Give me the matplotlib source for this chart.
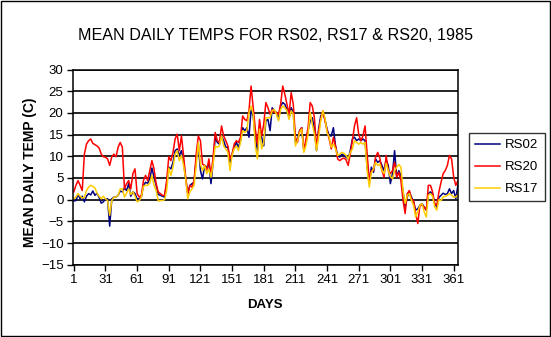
import matplotlib
import matplotlib.pyplot as plt
import numpy as np
from matplotlib.patches import Rectangle

matplotlib.use('Agg')
plt.rcParams['font.family'] = ['Liberation Sans', 'DejaVu Sans']

# readings every second day of 1985
days = np.arange(1, 366, 2)

rs02 = [-0.3, -0.2, 1.2, 0.2, 0.8, -0.5, 0.8, 1.4, 1.1, 2.0, 1.0, 1.5, 0.5, -0.8, -0.5, 0.2,
        0.2, -6.1, 0.2, 0.6, 0.6, 1.0, 2.0, 1.8, 2.7, 2.1, 3.7, 0.8, 1.8, 1.4, 0.2, 0.2,
        0.6, 3.3, 4.0, 3.8, 4.8, 7.3, 5.2, 3.3, 1.2, 1.0, 0.8, 0.6, 3.7, 7.5,
        7.1, 8.6, 11.3, 11.7, 10.2, 11.3, 8.6, 4.8, 1.4, 3.3, 3.7, 4.0, 9.4, 12.8, 6.7, 4.8,
        7.9, 7.5, 8.2, 3.7, 8.6, 14.4, 13.2, 12.8, 14.7, 13.6, 12.1, 12.1, 8.6, 10.5, 12.1,
        13.2, 12.1, 13.6, 16.6, 15.9, 16.6, 14.4, 20.8, 19.3, 14.4, 11.3, 16.6, 14.4, 12.4,
        18.2, 18.5,
        15.9, 21.2, 20.5, 20.1, 18.5, 21.6, 22.4, 22.0, 20.8, 18.9, 21.2, 20.1, 13.2, 14.0,
        15.9, 16.6, 11.3, 13.2, 15.9, 18.2, 18.9, 16.3, 11.3, 16.3, 19.3, 20.1, 18.5, 16.3,
        14.7, 14.7, 16.6, 12.4, 10.2, 9.8, 10.5, 10.2, 9.8, 9.4, 11.3, 14.0, 14.4, 13.6,
        14.0, 13.6, 14.0, 13.6,
        7.5, 4.4, 7.5, 6.3, 9.4, 8.6, 9.0, 7.9, 6.7, 9.2, 7.9, 3.7, 6.0, 11.3, 5.2, 6.7,
        5.6, 1.8, -1.7, 0.6, 1.8, 0.6, -0.5, -2.4, -2.1, -1.3, -0.9, -1.7, -2.4, 1.4, 1.8,
        1.2, -0.9, -1.7, 0.5, 1.0, 1.5, 1.2, 1.4, 2.5, 1.4, 2.1, 0.2, 3.3]

rs20 = [1.8, 3.3, 4.4, 3.3, 2.1, 10.5, 12.8, 13.6, 14.0, 13.0, 12.7, 12.4, 11.9, 10.5, 9.9,
        9.8, 9.4, 7.9, 9.9, 10.5, 9.9, 12.1, 13.2, 12.1, 2.5, 3.7, 4.4, 2.5, 6.0, 7.1, 1.4,
        0.6, 1.0, 4.4, 5.6, 4.4, 6.7, 9.0, 7.1, 3.7, 1.8, 1.4, 1.0, 1.0, 4.4, 9.9,
        9.0, 10.9, 14.0, 15.1, 11.3, 14.7, 10.2, 5.2, 1.4, 3.3, 2.9, 4.4, 10.5, 14.7, 13.6,
        8.2, 7.9, 6.7, 9.4, 5.6, 9.8, 15.5, 13.6, 13.2, 17.0, 14.7, 13.6, 12.4, 9.4, 10.5,
        12.8, 13.6, 13.2, 14.4, 19.3, 18.5, 18.2, 20.5, 26.2, 21.2, 16.3, 12.8, 18.5, 14.7,
        17.4, 22.4, 21.2,
        19.7, 20.8, 20.1, 20.1, 19.7, 22.0, 26.2, 24.3, 22.0, 19.7, 24.7, 22.0, 14.4, 13.2,
        15.9, 16.6, 11.3, 14.0, 16.6, 22.4, 21.6, 18.9, 12.1, 15.9, 18.5, 20.5, 18.2, 15.9,
        14.0, 11.7, 14.4, 12.4, 9.4, 9.0, 9.4, 9.6, 9.2, 7.9, 10.5, 13.6, 17.0, 18.9, 15.1,
        13.6, 14.7, 17.0,
        10.5, 4.4, 6.7, 6.7, 9.8, 10.9, 9.6, 6.7, 5.2, 10.2, 6.7, 6.0, 6.7, 8.6, 5.2, 6.3,
        4.4, -0.2, -3.2, 1.4, 2.1, 0.2, -0.2, -3.2, -5.5, -1.3, -1.3, -1.7, -2.4, 3.3, 3.3,
        1.8, -0.9, -1.3, 1.8, 4.0, 6.0, 6.7, 7.9, 10.2, 9.4, 5.2, 3.3, 4.4]

rs17 = [0.2, 0.6, 1.4, 0.8, 0.4, 0.5, 2.1, 2.9, 3.3, 3.1, 2.7, 1.5, 0.8, 0.2, 0.8, 0.2,
        -0.2, -3.6, -0.2, 0.6, 0.6, 1.0, 2.5, 2.5, 0.6, 1.5, 2.5, 1.2, 1.8, 0.8, -0.5, -0.2,
        0.6, 3.1, 3.3, 3.3, 3.8, 5.6, 3.3, 2.1, -0.3, -0.2, -0.2, 0.0, 2.1, 7.3,
        5.6, 7.5, 10.5, 11.3, 9.0, 10.2, 7.9, 4.8, 0.2, 1.8, 2.5, 3.3, 7.9, 13.2, 8.2, 6.7,
        7.9, 6.0, 7.1, 5.2, 8.2, 12.4, 12.1, 12.4, 14.7, 12.4, 11.7, 10.9, 6.7, 10.2, 11.7,
        12.4, 11.3, 13.2, 15.9, 15.5, 15.9, 20.1, 21.6, 19.7, 12.4, 9.4, 16.3, 11.7, 13.2,
        18.9, 18.9,
        18.9, 20.5, 20.8, 19.7, 18.2, 20.8, 21.6, 21.2, 20.5, 18.5, 20.5, 19.7, 12.4, 13.6,
        15.5, 16.3, 10.9, 12.4, 15.1, 20.1, 17.4, 15.1, 11.3, 14.4, 18.2, 20.5, 18.9, 15.5,
        14.4, 12.1, 12.8, 11.7, 10.2, 10.5, 10.9, 10.7, 10.2, 9.4, 10.9, 11.7, 13.6, 13.2,
        12.8, 13.2, 12.8, 13.2,
        6.7, 2.9, 6.3, 7.1, 8.6, 7.9, 8.2, 6.7, 6.0, 8.4, 6.7, 5.3, 4.8, 6.7, 7.5, 8.1,
        7.5, 2.1, -0.9, 1.0, 1.4, -0.2, -1.3, -4.0, -2.8, -1.3, -0.9, -2.8, -4.0, 1.0, 1.4,
        0.8, -1.7, -2.4, 0.0, -0.2, 0.6, 0.8, 1.0, 1.4, 1.0, 0.6, 0.6, 1.2]

series = [('RS02', rs02, '#000080'), ('RS20', rs20, '#ff0000'), ('RS17', rs17, '#ffcc00')]

fig = plt.figure(figsize=(5.51, 3.37), dpi=100)
fig.patches.append(Rectangle((0.001, 0.002), 0.997, 0.995, transform=fig.transFigure,
                             fill=False, edgecolor='black', linewidth=1.0))
ax = fig.add_axes([0.133, 0.2145, 0.699, 0.579])

for name, vals, col in series:
    ax.plot(days, vals, color=col, linewidth=1.1, label=name)

ax.set_xlim(0.5, 365.5)
ax.set_ylim(-15, 30)
ax.set_xticks(np.arange(1, 362, 30))
ax.set_yticks(np.arange(-15, 31, 5))
ax.yaxis.grid(True, color='black', linewidth=1.2)
ax.set_axisbelow(True)
ax.tick_params(direction='out', length=4, width=1, labelsize=9.5, colors='black', pad=3)
for sp in ax.spines.values():
    sp.set_linewidth(1.1)

fig.text(0.5, 0.895, 'MEAN DAILY TEMPS FOR RS02, RS17 & RS20, 1985', ha='center', va='center',
         fontsize=11.6)
fig.text(0.055, 0.49, 'MEAN DAILY TEMP (C)', rotation=90, ha='center', va='center',
         fontsize=10, fontweight='bold')
fig.text(0.481, 0.095, 'DAYS', ha='center', va='center', fontsize=9.5, fontweight='bold')

leg = fig.legend(loc='upper left', bbox_to_anchor=(469 / 551, 1 - 133 / 337), fontsize=9.5,
                 frameon=True, fancybox=False, handlelength=1.9, handletextpad=0.4,
                 labelspacing=0.75, borderpad=0.45, borderaxespad=0)
leg.get_frame().set_edgecolor('black')
leg.get_frame().set_linewidth(1.0)

fig.savefig('out.png', dpi=100)
